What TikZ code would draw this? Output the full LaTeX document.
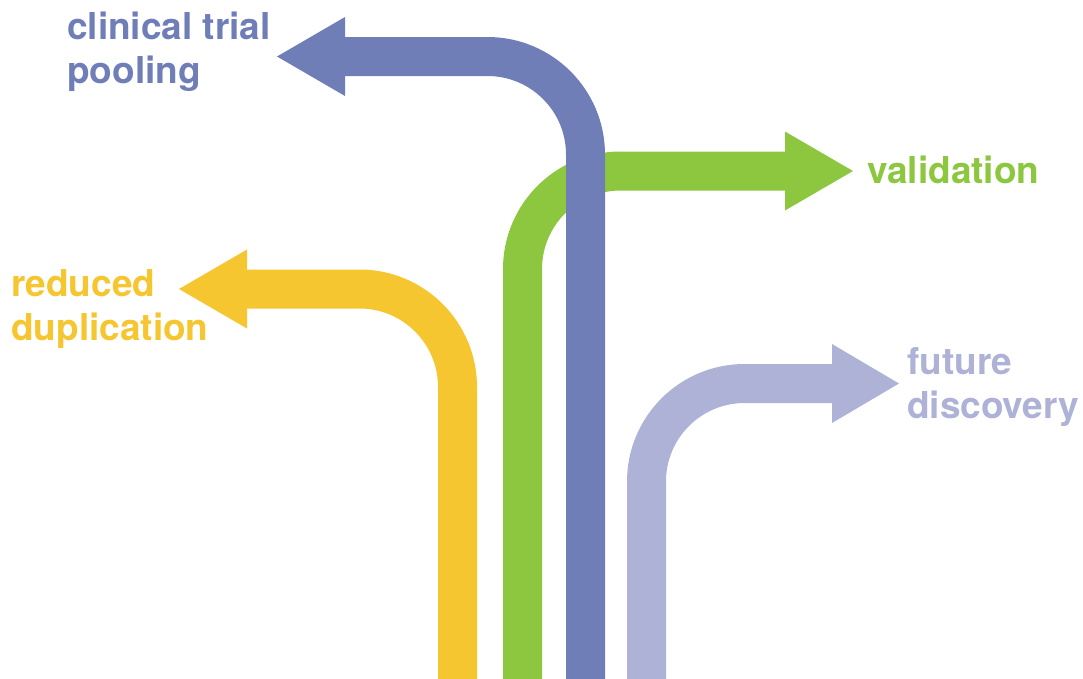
\documentclass[tikz,border=0pt]{standalone}
\usepackage{fontspec}
\setmainfont{TeX Gyre Heros}
\usetikzlibrary{calc}
\definecolor{cblue}{RGB}{112,126,184}
\definecolor{cgreen}{RGB}{141,198,63}
\definecolor{cyellow}{RGB}{245,198,48}
\definecolor{cpurple}{RGB}{174,178,214}
\begin{document}
\begin{tikzpicture}[x=1pt,y=-1pt,
  shaft/.style={line width=39pt, rounded corners=98pt},
  lbl/.style={font=\fontsize{37}{44}\selectfont\bfseries, align=left, inner sep=0pt, anchor=base west}]
\useasboundingbox (0,0) rectangle (1083,678);
% green arrow (validation)
\coordinate (gs) at (522.5,680);
\coordinate (gc) at (522.5,171);
\coordinate (gb) at (785,171);
\coordinate (gt) at (853,171);
\draw[shaft, cgreen] (gs) -- (gc) -- ($(gb)+(2,0)$);
\fill[cgreen] ($(gb)+(0,-39.5)$) -- (gt) -- ($(gb)+(0,39.5)$) -- cycle;
% blue arrow (clinical trial pooling)
\coordinate (bs) at (585.5,680);
\coordinate (bc) at (585.5,56.5);
\coordinate (bb) at (345,56.5);
\coordinate (bt) at (277,56.5);
\draw[shaft, cblue] (bs) -- (bc) -- ($(bb)+(-2,0)$);
\fill[cblue] ($(bb)+(0,-39.5)$) -- (bt) -- ($(bb)+(0,39.5)$) -- cycle;
% yellow arrow (reduced duplication)
\coordinate (ys) at (457.5,680);
\coordinate (yc) at (457.5,289);
\coordinate (yb) at (247,289);
\coordinate (yt) at (179,289);
\draw[shaft, cyellow] (ys) -- (yc) -- ($(yb)+(-2,0)$);
\fill[cyellow] ($(yb)+(0,-39.5)$) -- (yt) -- ($(yb)+(0,39.5)$) -- cycle;
% purple arrow (future discovery)
\coordinate (ps) at (646.5,680);
\coordinate (pc) at (646.5,383.5);
\coordinate (pb) at (832,383.5);
\coordinate (pt) at (899,383.5);
\draw[shaft, cpurple] (ps) -- (pc) -- ($(pb)+(2,0)$);
\fill[cpurple] ($(pb)+(0,-39.5)$) -- (pt) -- ($(pb)+(0,39.5)$) -- cycle;
% labels (base = baseline of the last line)
\node[lbl, text=cblue] (lb) at (67,83) {clinical trial\\pooling};
\node[lbl, text=cgreen] (lg) at (867,183) {validation};
\node[lbl, text=cyellow] (ly) at (11,340.5) {reduced\\duplication};
\node[lbl, text=cpurple] (lp) at (907,418.5) {future\\discovery};
\end{tikzpicture}
\end{document}
